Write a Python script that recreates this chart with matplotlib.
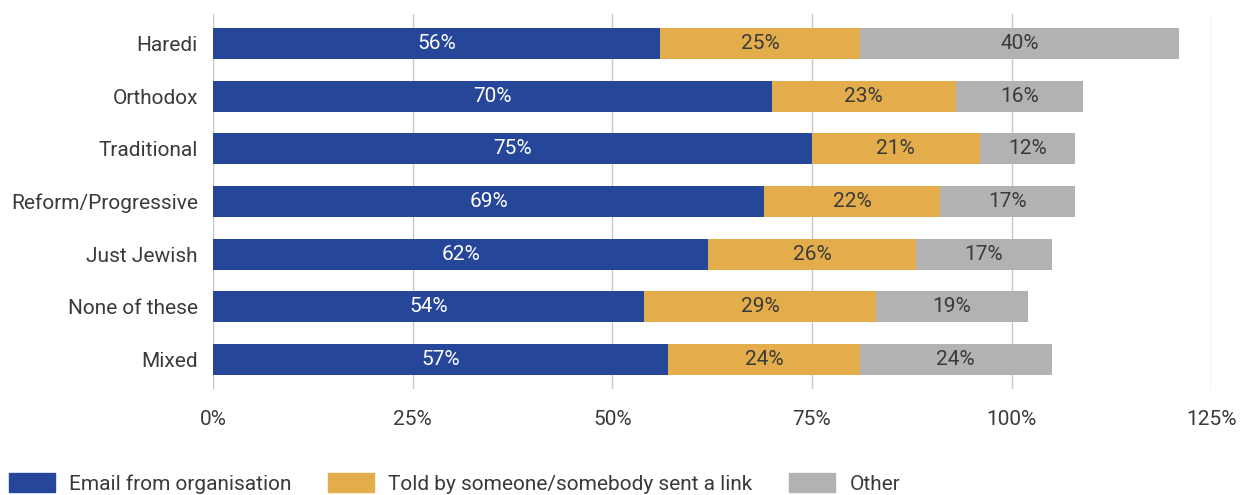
import numpy as np
import matplotlib.pyplot as plt
from matplotlib.patches import Patch

categories = ["Haredi", "Orthodox", "Traditional", "Reform/Progressive", "Just Jewish", "None of these", "Mixed"]
email = [56, 70, 75, 69, 62, 54, 57]
told = [25, 23, 21, 22, 26, 29, 24]
other = [40, 16, 12, 17, 17, 19, 24]
series_names = ["Email from organisation", "Told by someone/somebody sent a link", "Other"]
xticks = [0, 25, 50, 75, 100, 125]

colors = ["#26469a", "#e2ad4a", "#b2b2b2"]
text_colors = ["white", "#3a3a3a", "#3a3a3a"]

plt.rcParams['font.family'] = ['Roboto', 'DejaVu Sans']
fs = 15

fig = plt.figure(figsize=(12.4, 4.95), dpi=100)
ax = fig.add_axes([0.1718, 0.214, 0.805, 0.758])

y = np.arange(len(categories))
left = np.zeros(len(categories))
for vals, col, tcol in zip([email, told, other], colors, text_colors):
    vals = np.array(vals)
    ax.barh(y, vals, left=left, height=0.59, color=col, zorder=3)
    for yi, l, v in zip(y, left, vals):
        ax.text(l + v / 2, yi, f"{v}%", ha="center", va="center", color=tcol,
                fontsize=fs, zorder=4)
    left = left + vals

ax.set_xlim(0, 125)
ax.set_ylim(6.56, -0.56)
ax.set_xticks(xticks)
ax.set_xticklabels([f"{t}%" for t in xticks], fontsize=fs, color="#3a3a3a")
ax.set_yticks(y)
ax.set_yticklabels(categories, fontsize=fs, color="#3a3a3a")
ax.tick_params(axis="both", length=0)
ax.tick_params(axis="x", pad=15)
ax.tick_params(axis="y", pad=11)
ax.grid(axis="x", color="#c8c8c8", linewidth=1, zorder=0)
for s in ax.spines.values():
    s.set_visible(False)

handles = [Patch(color=c, label=n) for c, n in zip(colors, series_names)]
fig.legend(handles=handles, loc="center left", bbox_to_anchor=(0.007, 0.024), ncol=3, frameon=False,
           fontsize=fs, handlelength=2.2, handleheight=1.05, handletextpad=0.7, columnspacing=1.75,
           labelcolor="#3a3a3a", borderpad=0, borderaxespad=0)

fig.savefig("out.png", dpi=100)
